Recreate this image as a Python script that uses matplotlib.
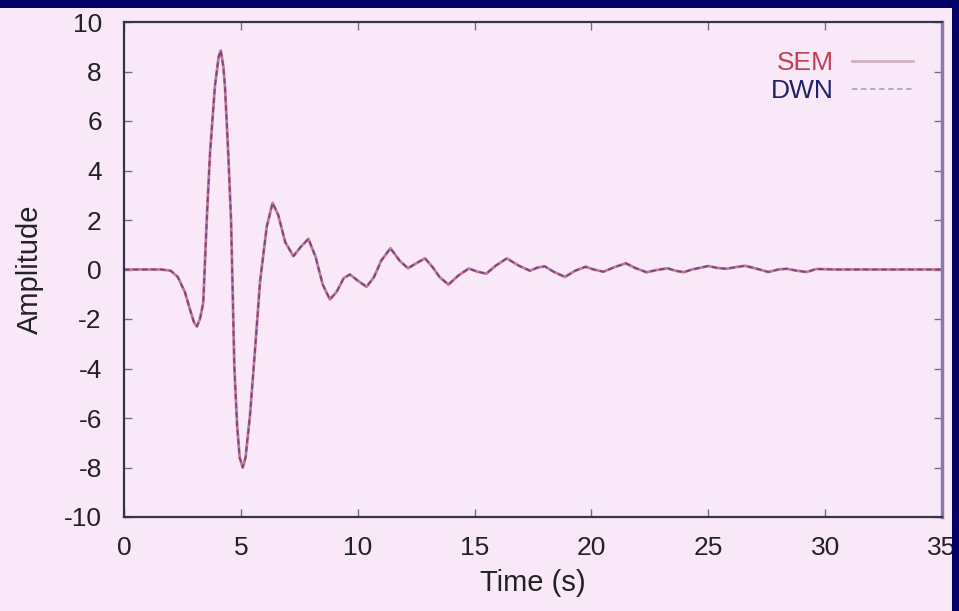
"""Seismogram comparison: SEM vs DWN synthetic traces."""
import matplotlib
matplotlib.use('Agg')
import matplotlib.pyplot as plt
from matplotlib.patches import Rectangle

plt.rcParams['font.family'] = ['Liberation Sans', 'DejaVu Sans']
plt.rcParams['axes.unicode_minus'] = False

# --- values ---
time_s = [0.0, 1.0, 1.6, 2.0, 2.3, 2.6, 2.85, 3.0, 3.12, 3.25, 3.39, 3.54,
          3.68, 3.89, 4.05, 4.14, 4.25, 4.32, 4.46, 4.58, 4.66, 4.72, 4.84,
          4.95, 5.08, 5.2, 5.39, 5.61, 5.82, 6.11, 6.36, 6.6, 6.9, 7.25,
          7.55, 7.89, 8.2, 8.5, 8.81, 9.1, 9.4, 9.67, 10.0, 10.38, 10.7,
          11.0, 11.4, 11.8, 12.15, 12.5, 12.88, 13.2, 13.5, 13.88, 14.3,
          14.75, 15.1, 15.5, 15.9, 16.38, 16.9, 17.37, 17.7, 18.0, 18.4,
          18.87, 19.3, 19.75, 20.1, 20.51, 21.0, 21.47, 21.9, 22.36, 22.8,
          23.25, 23.6, 23.95, 24.3, 24.65, 25.0, 25.4, 25.79, 26.2, 26.57,
          27.0, 27.57, 28.0, 28.35, 28.8, 29.2, 29.63, 30.5, 35.0]
sem_amp = [0.0, 0.0, 0.0, -0.05, -0.3, -0.9, -1.7, -2.15, -2.3, -2.0, -1.35,
           2.0, 4.7, 7.4, 8.6, 8.85, 8.2, 7.4, 4.7, 2.0, -1.3, -3.9, -6.3,
           -7.6, -8.0, -7.6, -5.9, -3.2, -0.5, 1.75, 2.69, 2.2, 1.1, 0.54,
           0.9, 1.24, 0.5, -0.6, -1.21, -0.9, -0.35, -0.2, -0.45, -0.7, -0.3,
           0.35, 0.86, 0.35, 0.05, 0.25, 0.45, 0.1, -0.3, -0.61, -0.25,
           0.04, -0.08, -0.17, 0.15, 0.45, 0.15, -0.05, 0.08, 0.13, -0.1,
           -0.3, -0.05, 0.11, 0.0, -0.09, 0.1, 0.25, 0.05, -0.11, -0.02,
           0.05, -0.05, -0.11, 0.0, 0.07, 0.14, 0.06, 0.03, 0.1, 0.15,
           0.05, -0.1, 0.0, 0.03, -0.05, -0.1, 0.02, 0.0, 0.0]
# the two solutions lie on top of each other in the picture
dwn_amp = list(sem_amp)

x_ticks = [0, 5, 10, 15, 20, 25, 30, 35]
y_ticks = [-10, -8, -6, -4, -2, 0, 2, 4, 6, 8, 10]

BG = '#f9e9f8'
NAVY = '#000066'

fig = plt.figure(figsize=(9.59, 6.11), dpi=100, facecolor=BG)
ax = fig.add_axes([124 / 959, 1 - 517 / 611, 818 / 959, 495 / 611])
ax.set_facecolor(BG)

ax.plot(time_s, sem_amp, color='#c87890', lw=2.0, label='SEM')
ax.plot(time_s, dwn_amp, color='#6a4a8c', lw=1.3, dashes=(3, 2), label='DWN')

ax.set_xlim(0, 35)
ax.set_ylim(-10, 10)
ax.set_xticks(x_ticks)
ax.set_yticks(y_ticks)
ax.tick_params(direction='in', length=6, width=1, color='#707080',
               top=True, right=True, labelsize=19, labelcolor='#222222')
ax.tick_params(axis='x', pad=14)
ax.tick_params(axis='y', pad=16)

for side in ['left', 'bottom', 'top']:
    ax.spines[side].set_color('#33334a')
    ax.spines[side].set_linewidth(1.6)
ax.spines['right'].set_color('#8a7aac')
ax.spines['right'].set_linewidth(2.5)

ax.set_xlabel('Time (s)', fontsize=21, color='#222222', labelpad=6)
ax.set_ylabel('Amplitude', fontsize=21, color='#222222', labelpad=14)

leg = ax.legend(loc='upper right', bbox_to_anchor=(0.9646, 0.941),
                borderaxespad=0, borderpad=0, frameon=False,
                markerfirst=False, fontsize=19, handlelength=2.3,
                handletextpad=0.7, labelspacing=0.15)
leg.get_texts()[0].set_color('#c04050')
leg.get_texts()[1].set_color('#202070')
leg.get_lines()[0].set_color('#d0b0c0')
leg.get_lines()[1].set_color('#a8a8c0')

# navy slide border (top strip and right edge)
fig.add_artist(Rectangle((0, 1 - 8 / 611), 1, 8 / 611, transform=fig.transFigure,
                         facecolor=NAVY, edgecolor='none', zorder=10))
fig.add_artist(Rectangle((952 / 959, 0), 7 / 959, 1, transform=fig.transFigure,
                         facecolor=NAVY, edgecolor='none', zorder=10))

fig.savefig('out.png', dpi=100, facecolor=BG)
